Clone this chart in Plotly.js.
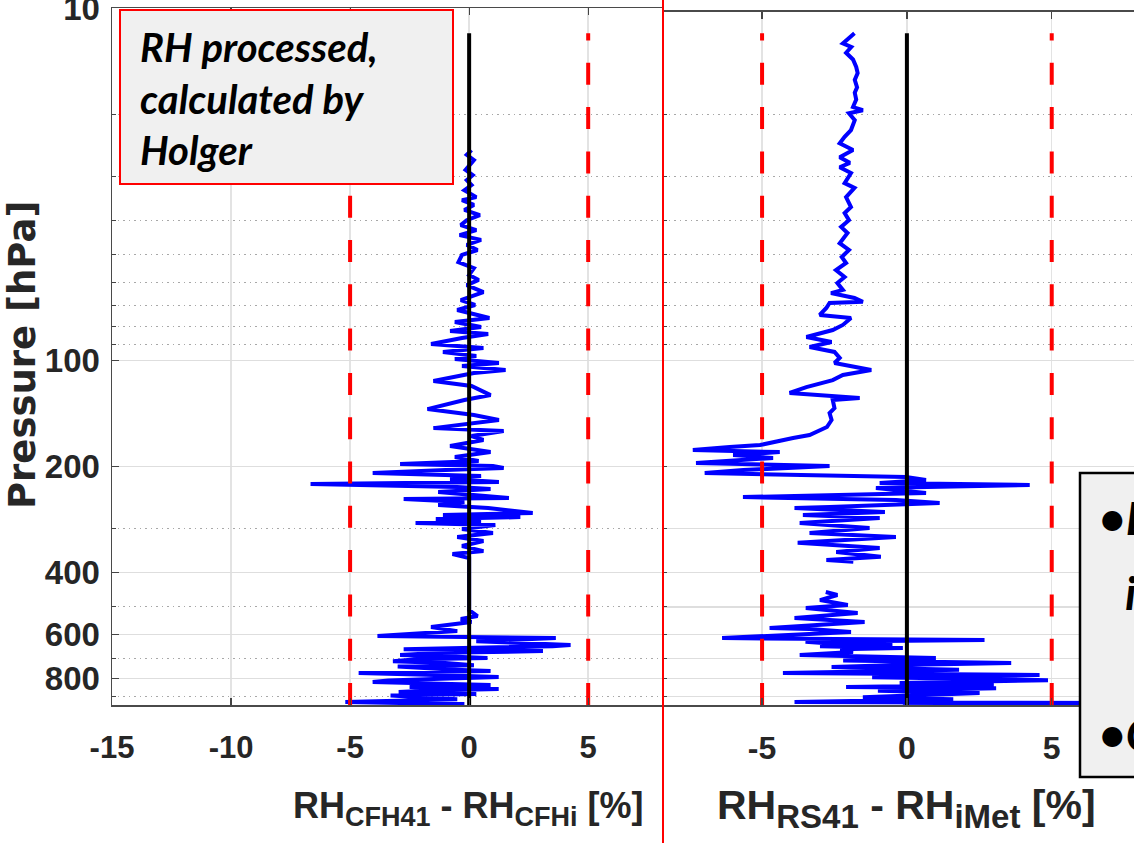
<!DOCTYPE html>
<html><head><meta charset="utf-8">
<script src="https://cdn.plot.ly/plotly-3.0.1.min.js"></script>
<style>html,body{margin:0;padding:0;background:#fff;overflow:hidden}#chart{width:1134px;height:843px}</style>
</head><body><div id="chart"></div>
<script>
// ---- data ----
// Left panel: RH_CFH41 - RH_CFHi [%] vs pressure [hPa]
const leftDiff = [0.10,-0.10,0.20,0.00,-0.15,0.15,-0.10,0.10,-0.20,0.30,-0.30,0.20,-0.20,0.45,-0.10,-0.35,0.30,-0.40,0.50,-0.10,0.35,-0.30,-0.45,0.20,0.00,0.40,-0.10,0.60,-0.35,0.25,-0.50,0.35,
 0.85,-0.60,0.50,-0.80,0.80,-0.30,-1.60,0.60,-1.10,0.30,-0.60,1.25,-0.30,1.53,0.20,-1.50,0.10,0.90,-0.20,-1.75,0.20,1.25,-1.50,1.45,0.10,0.60,-0.80,0.90,-0.60,0.40,-2.90,1.00,1.45,-1.00,-4.05,0.50,-0.80,1.25,-6.66,-0.50,0.90,-1.30,0.40,1.67,-2.75,-0.20,-1.30,0.80,2.67,-1.10,2.15,-1.40,0.50,-2.25,1.10,-0.30,1.00,-0.50,0.60,-0.30,0.60,-0.70,0.00,
 0.00,0.35,-0.35,0.10,-1.60,-0.50,-3.85,3.64,0.30,4.26,3.50,-2.75,3.10,-1.20,-2.90,-0.80,0.77,-2.20,-3.20,-1.00,0.20,-3.00,-2.00,-0.60,0.90,-4.64,-1.80,1.24,-1.50,-3.40,-4.05,-1.00,0.90,-2.50,1.24,-1.60,-2.96,0.30,-3.30,-2.00,-0.50,-2.60,-5.20,-0.20,-2.90];
const leftP = [25.3,26.1,27.0,27.9,28.8,29.8,30.8,31.8,32.9,34.4,35.1,36.2,37.4,38.7,40.0,41.3,42.7,44.1,45.5,47.0,48.6,50.2,52.6,54.7,57.2,59.1,61.1,64.0,67.4,69.6,71.9,74.3,
 75.8,77.8,80.4,82.5,84.1,86.4,89.8,92.2,94.6,97.2,99.1,101.7,103.7,106.4,108.6,114.4,118.2,125.4,129.5,137.4,142.9,147.6,155.6,158.6,163.9,168.2,174.9,182.0,188.0,193.0,196.8,199.4,202.0,204.6,208.7,212.8,217.1,221.3,224.2,228.7,231.7,236.3,241.0,245.7,247.4,252.3,257.3,262.4,271.0,274.7,278.3,281.9,285.6,289.3,293.1,300.9,308.9,317.0,325.5,336.3,347.5,354.4,363.8,
 511,531.3,541.8,552.6,571.0,586.2,605.6,613.5,625.9,642.4,646.7,659.5,668.1,675,685.5,692,699.0,705,713.3,722,732.3,739,746.5,754,761.3,771.0,780,791.1,801.5,809,817.5,826,834.0,845.2,856.3,864,873.3,884.8,893,902.5,914.5,922,932.3,944.0,950];
// Right panel: RH_RS41 - RH_iMet [%] vs pressure [hPa] (null = data gap)
const rightDiff = [-1.81,-2.04,-2.21,-1.92,-2.10,-1.86,-1.75,-1.70,-1.80,-1.72,-1.80,-1.75,-1.86,-1.52,-2.00,-1.80,-1.93,-2.15,-2.32,-1.86,-2.32,-1.97,-2.32,-1.93,-2.15,-1.81,-2.10,-1.93,-2.15,-2.00,-2.27,-2.05,-2.32,-2.00,-2.25,-2.10,-2.45,-2.15,-2.40,-2.21,-2.62,-1.81,-1.52,-2.67,-2.78,-3.01,-1.93,-2.21,-2.56,-3.47,-2.60,-3.36,-2.50,-2.32,-2.50,-1.23,-2.21,-2.56,-3.47,-4.05,-1.63,-2.56,-2.50,-2.67,-2.60,-2.76,-3.00,-3.36,-3.93,-4.50,-5.07,-6.12,-7.39,-4.39,-6.00,-4.62,-7.28,-2.67,-5.65,-6.98,-0.03,0.66,-0.94,4.24,-1.07,0.66,-5.66,-0.38,1.13,-2.67,-3.88,-0.76,-3.59,-0.94,-3.70,-1.29,-3.36,-0.38,-1.98,-3.77,-0.94,-2.44,-0.90,-2.78,-1.85,
 null,-2.80,-2.40,-3.00,-2.04,-3.49,-1.70,-3.88,-1.46,-4.74,-3.36,-1.93,-6.38,2.68,-3.50,-2.90,-0.50,-3.00,-0.14,-2.30,-1.86,-3.70,1.00,-2.20,3.60,-0.30,-2.60,1.80,-4.28,4.58,-1.20,4.87,-0.25,3.00,-2.10,3.08,-1.00,2.51,-1.52,1.60,-3.88,9.00,-0.14];
const rightP = [11.8,12.2,12.6,12.9,13.4,14.0,14.7,15.3,16.0,16.8,17.4,18.2,19.1,19.5,19.9,20.8,22.2,23.2,24.2,25.3,26.5,27.5,28.3,29.4,31.4,32.4,34.4,36.7,38.2,40.0,41.8,43.5,46.5,48.6,50.9,52.9,55.4,58.0,60.3,63.1,64.4,66.5,68.2,68.7,71.0,74.3,75.8,79.3,82.0,85.8,88.7,91.6,94.6,98.4,101.7,106.4,110.0,113.7,119.0,123.7,127.9,129.5,136.5,141.0,147.6,154.5,157.6,162.8,166.0,170.4,173.8,176.1,179.6,182.0,185.6,189.2,195.4,199.4,204.6,208.7,214.3,218.4,222.7,225.7,230.1,237.8,244.2,248.9,254.0,260.6,262.4,269.2,274.7,280.1,289.3,299.0,308.9,317.0,323.3,329.3,340.4,349.4,360.9,368.5,372.8,
 400,454.0,463.0,478.6,494.4,504.3,521.1,538.4,552.6,574.1,578,589.7,613.5,621.7,628,633.8,640,647,654.6,660,672.1,685.5,699.0,710,722.3,732,741.3,755,771.0,781.0,792,807.5,823.3,833,845.2,851.0,865,879.0,902.5,915,932.3,938.3,950];
const refLineX = [-5, 0, 5];          // reference lines (red dashed at +-5, black at 0)
const refTopP = 11.8;                 // where reference lines start
const pTop = 9.998;                   // upper limit of the pressure axis
const pBottom = 950;                  // lower limit of the pressure axis
const pTickVals = [10,100,200,400,600,800];
const pTickText = ['10','100','200','400','600','800'];
const pPlainVals = [300,500,700,900];                 // solid grid lines without labels
const pMinorVals = [20,30,40,50,60,70,80,90,200,300,400,500,600,700,800,900];
const xTickLeft = [-15,-10,-5,0,5];
const xTickLeftText = ['-15','-10','-5','0','5'];
const xTickRight = [-5,0,5];
const xTickRightText = ['-5','0','5'];
const leftTitle = 'RH<sub><span style="font-size:27px">CFH41</span></sub> - RH<sub><span style="font-size:27px">CFHi</span></sub> [%]';
const rightTitle = 'RH<sub><span style="font-size:33px">RS41</span></sub> - RH<sub><span style="font-size:33px">iMet</span></sub> [%]';
const yTitle = 'Pressure [hPa]';
const boxLines = ['RH processed,', 'calculated by', 'Holger'];
const sideLines = ['•L', 'i', '•C'];

// ---- layout helpers (pixel -> paper) ----
const L = 112, T = 8, PB = 705, PW = 1134 - L, PH = PB - T;
const px = X => (X - L) / PW;
const py = Y => (PB - Y) / PH;
const sans = 'Liberation Sans, Arial, sans-serif';
const txt = '#262626';
const pRange = [Math.log10(pBottom), Math.log10(pTop)];

function refTraces(xa, ya) {
  return refLineX.map(v => ({
    x: [v, v], y: v === 0 ? [refTopP, pBottom] : [pBottom, refTopP],
    xaxis: xa, yaxis: ya, mode: 'lines', hoverinfo: 'skip',
    line: v === 0 ? {color: '#000', width: 4} : {color: '#ff0000', width: 4, dash: '22px,22.3px'}
  }));
}
const data = [
  {x: leftDiff, y: leftP, xaxis: 'x', yaxis: 'y', mode: 'lines', line: {color: '#0000ff', width: 4}},
  {x: rightDiff, y: rightP, xaxis: 'x2', yaxis: 'y2', mode: 'lines', connectgaps: false, line: {color: '#0000ff', width: 4}},
  ...refTraces('x', 'y'), ...refTraces('x2', 'y2')
];

const xCommon = {tickmode: 'array', ticks: 'inside', ticklen: 7, tickcolor: '#444', tickwidth: 1.2, showline: true, linecolor: '#4a4a4a', linewidth: 1.5,
  mirror: 'ticks', showgrid: true, gridcolor: '#e3e3e3', gridwidth: 1.5, zeroline: false, ticklabelstandoff: 14};
const yCommon = {type: 'log', tickmode: 'array', tickvals: pTickVals, ticktext: pTickText, showgrid: true, gridcolor: '#dedede', gridwidth: 1.5,
  zeroline: false, minor: {tickmode: 'array', tickvals: pMinorVals, showgrid: true, gridcolor: '#a8a8a8', gridwidth: 1, griddash: '1.5px,4px', ticks: 'inside', ticklen: 4, tickcolor: '#444'}};

const layout = {
  width: 1134, height: 843, margin: {l: L, r: 0, t: T, b: 843 - PB, pad: 0},
  paper_bgcolor: '#fff', plot_bgcolor: '#fff', showlegend: false,
  xaxis: Object.assign({}, xCommon, {domain: [0, px(662)], range: [-15, 8.1], tickvals: xTickLeft, ticktext: xTickLeftText, anchor: 'y',
    tickfont: {family: sans, size: 31, color: txt, weight: 'bold'}}),
  yaxis: Object.assign({}, yCommon, {domain: [0, 1], range: pRange, anchor: 'x', ticks: 'inside', ticklen: 7, tickcolor: '#444',
    showline: true, linecolor: '#4a4a4a', linewidth: 1.5, ticklabelstandoff: 4, ticklabeloverflow: 'allow',
    tickfont: {family: sans, size: 33, color: txt, weight: 'bold'}}),
  yaxis3: {type: 'log', overlaying: 'y', anchor: 'x', side: 'left', range: pRange, tickmode: 'array', tickvals: pPlainVals,
    showticklabels: false, ticks: 'inside', ticklen: 7, tickcolor: '#444', showgrid: true, gridcolor: '#dedede', gridwidth: 1.5, zeroline: false, showline: false},
  xaxis2: Object.assign({}, xCommon, {domain: [px(663), 1], range: [-8.42, 7.84], tickvals: xTickRight, ticktext: xTickRightText, anchor: 'y2',
    tickfont: {family: sans, size: 32, color: txt, weight: 'bold'}}),
  yaxis2: Object.assign({}, yCommon, {domain: [0, py(11.7)], range: [Math.log10(pBottom), 1.0105], anchor: 'x2',
    tickvals: pTickVals.concat(pPlainVals), ticktext: null, showticklabels: false, ticks: '', showline: false}),
  shapes: [
    {type: 'rect', xref: 'paper', yref: 'paper', x0: px(120), x1: px(453), y0: py(184), y1: py(10), fillcolor: '#f0f0f0', line: {color: '#ff0000', width: 2}, layer: 'above'},
    {type: 'rect', xref: 'paper', yref: 'paper', x0: px(1080), x1: px(1145), y0: py(777), y1: py(473), fillcolor: '#f0f0f0', line: {color: '#000', width: 2.5}, layer: 'above'},
    {type: 'line', xref: 'paper', yref: 'paper', x0: px(663), x1: px(663), y0: py(850), y1: py(-5), line: {color: '#ff0000', width: 2}, layer: 'above'}
  ],
  annotations: [
    ...boxLines.map((t, i) => ({text: t, xref: 'paper', yref: 'paper', x: px(138), y: py([47, 99, 150][i]), xanchor: 'left', yanchor: 'middle', showarrow: false,
      font: {family: 'Lato, Open Sans, sans-serif', size: 40, color: '#000', weight: 'bold', style: 'italic'}})),
    ...sideLines.map((t, i) => ({text: t, xref: 'paper', yref: 'paper', x: px([1097, 1123, 1097][i]), y: py([517, 592, 733][i]), xanchor: 'left', yanchor: 'middle', showarrow: false,
      font: {family: 'Lato, Open Sans, sans-serif', size: 46, color: '#000', weight: 'bold', style: 'italic'}})),
    {text: leftTitle, xref: 'paper', yref: 'paper', x: px(468), y: py(808), xanchor: 'center', yanchor: 'middle', showarrow: false,
      font: {family: sans, size: 36, color: txt, weight: 'bold'}},
    {text: rightTitle, xref: 'paper', yref: 'paper', x: px(906), y: py(808), xanchor: 'center', yanchor: 'middle', showarrow: false,
      font: {family: sans, size: 41, color: txt, weight: 'bold'}},
    {text: yTitle, xref: 'paper', yref: 'paper', x: px(23), y: py(355), xanchor: 'center', yanchor: 'middle', textangle: -90, showarrow: false,
      font: {family: 'DejaVu Sans, sans-serif', size: 37, color: txt, weight: 'bold'}}
  ]
};
Plotly.newPlot('chart', data, layout, {staticPlot: true, displayModeBar: false});
</script></body></html>
